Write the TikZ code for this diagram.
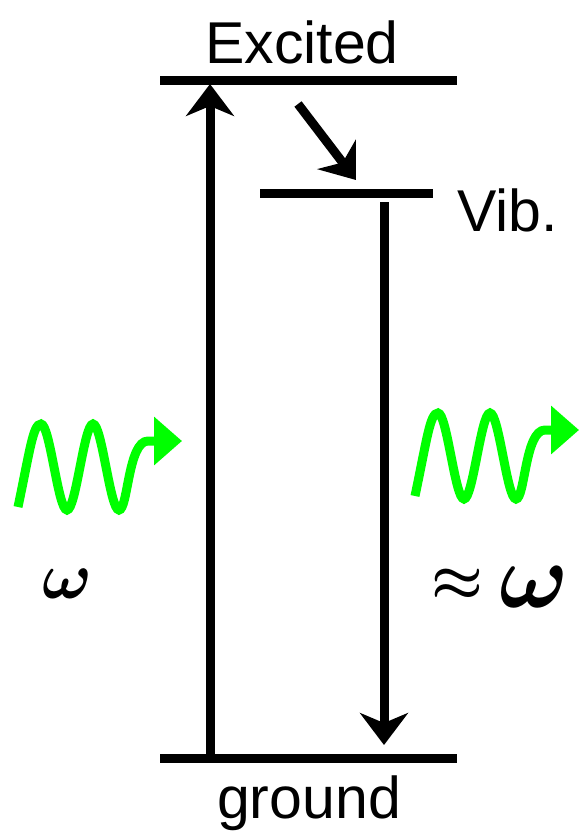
\documentclass[tikz,border=0pt]{standalone}
\usepackage{amsmath}
\usepackage{graphicx}
\usepackage{fontspec}
\setmainfont{Liberation Sans}
\usetikzlibrary{arrows.meta}
\definecolor{wavegreen}{RGB}{0,255,0}
\tikzset{
  level/.style={line width=9pt},
  trans/.style={line width=9pt,-{Stealth[length=32pt,width=48pt,inset=10pt]}},
  wave/.style={wavegreen,line width=9pt,-{Triangle[length=28pt,width=47pt]}},
  lbl/.style={inner sep=0pt,anchor=base,font=\fontsize{59}{60}\selectfont},
  om/.style={inner sep=0pt,anchor=center}
}
\begin{document}
\begin{tikzpicture}[x=1pt,y=-1pt]
\useasboundingbox (0,0) rectangle (580,831);
% levels
\coordinate (exL) at (160,80);
\coordinate (exR) at (457,80);
\coordinate (vbL) at (260,193);
\coordinate (vbR) at (433,193);
\coordinate (gdL) at (160,758);
\coordinate (gdR) at (457,758);
\draw[level] (exL) -- (exR);
\draw[level] (vbL) -- (vbR);
\draw[level] (gdL) -- (gdR);
% labels
\node[lbl] (excited) at (302,63) {Excited};
\node[lbl,anchor=base west] (vib) at (457,231) {Vib.};
\node[lbl] (ground) at (309,818) {ground};
% transitions
\coordinate (upS) at (210,758);
\coordinate (upE) at (210,84);
\coordinate (dnS) at (384,202);
\coordinate (dnE) at (384,745);
\coordinate (rlS) at (298,104);
\coordinate (rlE) at (356,180);
\draw[trans] (upS) -- (upE);
\draw[trans] (dnS) -- (dnE);
\draw[trans] (rlS) -- (rlE);
% waves
\foreach \dx/\dy/\nm in {0/0/L, 397/-11/R}{
  \begin{scope}[shift={(\dx,\dy)}]
  \coordinate (w\nm S) at (18,507);
  \coordinate (w\nm E) at (182,441);
  \draw[wave] (w\nm S) .. controls (30,450) and (33,424) .. (41,424)
    .. controls (50,424) and (58,510) .. (67,510)
    .. controls (76,510) and (84,424) .. (93,424)
    .. controls (102,424) and (110,510) .. (119,510)
    .. controls (128,510) and (128,441) .. (148,441) -- (w\nm E);
  \end{scope}
}
% frequencies
\node[om] (omL) at (67,584) {\scalebox{6.6}{$\boldsymbol{\omega}$}};
\node[om] (approx) at (457,585) {\scalebox{5.8}{$\boldsymbol{\approx}$}};
\node[om] (omR) at (534,587) {\scalebox{9.2}{$\boldsymbol{\omega}$}};
\end{tikzpicture}
\end{document}
